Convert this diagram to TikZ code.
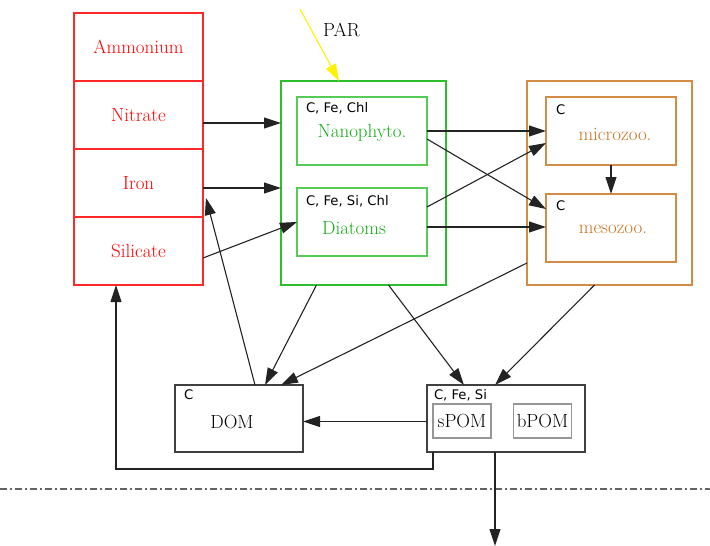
\documentclass[tikz,border=0pt]{standalone}
\usepackage{fontspec}
\newfontfamily\tagfont{DejaVu Sans}
\usetikzlibrary{calc,arrows.meta,positioning}

\definecolor{nutred}{RGB}{255,40,40}
\definecolor{nuttext}{RGB}{255,0,0}
\definecolor{phygreen}{RGB}{45,190,45}
\definecolor{phytext}{RGB}{20,170,20}
\definecolor{zoobrown}{RGB}{210,140,70}
\definecolor{zootext}{RGB}{200,115,35}
\definecolor{edgegray}{RGB}{35,35,35}
\definecolor{subgray}{RGB}{150,150,150}
\definecolor{seagray}{RGB}{100,100,100}

\tikzset{
	every node/.style={font=\fontsize{19}{22}\selectfont, inner sep=0pt, outer sep=0pt, text depth=0pt},
	nutbox/.style={draw=nutred, text=nuttext, line width=1.3pt, minimum width=129pt, minimum height=68pt},
	phyouter/.style={draw=phygreen, line width=1.3pt, minimum width=165pt, minimum height=204pt},
	phyinner/.style={draw=phygreen!80, text=phytext, line width=1.3pt, minimum width=130pt, minimum height=68pt},
	zoouter/.style={draw=zoobrown, line width=1.3pt, minimum width=165pt, minimum height=204pt},
	zooinner/.style={draw=zoobrown, text=zootext, line width=1.3pt, minimum width=130pt, minimum height=68pt},
	detbox/.style={draw=black!75, line width=1.3pt, minimum height=67pt},
	subbox/.style={draw=subgray, line width=1.3pt, minimum width=58pt, minimum height=34pt},
	elemtag/.style={font=\tagfont\fontsize{13.2}{15}\selectfont, anchor=north west},
	flow/.style={draw=edgegray, line width=1.1pt, -{Triangle[length=17pt,width=11pt]}},
	light/.style={draw=yellow, line width=1.1pt, -{Triangle[length=17pt,width=11pt,fill=yellow]}},
	sealine/.style={draw=seagray, line width=1.1pt, dash pattern=on 7pt off 3pt on 2pt off 3pt},
}

\begin{document}
\begin{tikzpicture}[x=1pt,y=-1pt]
		\useasboundingbox (0,0) rectangle (710,546);
		% nutrients
		\node[nutbox] (amm) at (138.5,47) {Ammonium};
		\node[nutbox, below=0pt of amm] (nit) {Nitrate};
		\node[nutbox, below=0pt of nit] (iron) {Iron};
		\node[nutbox, below=0pt of iron] (sil) {Silicate};
		%
		% phytoplankton
		\node[phyouter] (phyto) at (363.5,183) {};
		\node[phyinner] (nano) at (362,131) {Nanophyto.};
		\node[phyinner, label={[text=phytext, xshift=-8pt, yshift=-6pt]center:Diatoms}] (diat) at (362,222) {};
		\node[elemtag] (nanotag) at ($(nano.north west)+(9,5)$) {C, Fe, Chl};
		\node[elemtag] (diattag) at ($(diat.north west)+(9,7)$) {C, Fe, Si, Chl};
		%
		% zooplankton
		\node[zoouter] (zoo) at (609.5,183) {};
		\node[zooinner, label={[text=zootext, xshift=4pt, yshift=-3pt]center:microzoo.}] (micro) at (611,131) {};
		\node[zooinner, label={[text=zootext, xshift=2pt, yshift=-1pt]center:mesozoo.}] (meso) at (611,228) {};
		\node[elemtag] (microtag) at ($(micro.north west)+(10,8)$) {C};
		\node[elemtag] (mesotag) at ($(meso.north west)+(10,7)$) {C};
		%
		% detritus
		\node[detbox, minimum width=128pt, label={[xshift=-7pt, yshift=-3pt]center:DOM}] (dom) at (239,418.5) {};
		\node[elemtag] (domtag) at ($(dom.north west)+(9,5)$) {C};
		\node[detbox, minimum width=158pt] (pom) at (506,418.5) {};
		\node[elemtag] (pomtag) at ($(pom.north west)+(7,4)$) {C, Fe, Si};
		\node[subbox] (spom) at (462,421) {sPOM};
		\node[subbox] (bpom) at (542.5,421) {bPOM};
		%
		% light and sea floor
		\coordinate (sun) at (300,9);
		\node (partxt) at (341.5,30) {PAR};
		\coordinate (seaW) at (0,489);
		\coordinate (seaE) at (710,489);
		\coordinate (export) at (495,546);
		%
		\draw[light] (sun) -- ($(phyto.north west)+(58,0)$);
		\draw[sealine] (seaW) -- (seaE);
		%
		\draw[flow] ($(nit.east)+(0,8)$) -- ($(nit.east -| phyto.west)+(0,8)$);
		\draw[flow] ($(iron.east)+(0,5)$) -- ($(iron.east -| phyto.west)+(0,5)$);
		\draw[flow] ($(sil.east)+(0,7)$) -- (diat.west);
		\draw[flow] (nano.east) -- (micro.west);
		\draw[flow] ($(nano.east)+(0,8)$) -- ($(meso.west)+(0,-19)$);
		\draw[flow] ($(diat.east)+(0,-15)$) -- ($(micro.west)+(0,12)$);
		\draw[flow] ($(diat.east)+(0,5)$) -- ($(diat.east -| meso.west)+(0,5)$);
		\draw[flow] (micro.south) -- (meso.north);
		\draw[flow] ($(phyto.south)+(-47,0)$) -- ($(dom.north)+(26,0)$);
		\draw[flow] ($(zoo.south west)+(0,-22)$) -- ($(dom.north)+(42,0)$);
		\draw[flow] ($(dom.north)+(16,0)$) -- ($(iron.east)+(3,15)$);
		\draw[flow] ($(phyto.south)+(25,0)$) -- ($(pom.north)+(-42,0)$);
		\draw[flow] ($(zoo.south)+(-15,0)$) -- ($(pom.north)+(-11,0)$);
		\draw[flow] ($(pom.west)+(0,3)$) -- ($(dom.east)+(0,3)$);
		\draw[flow] ($(pom.south west)+(6,0)$) -- ++(0,17) -| ($(sil.south west)+(42,0)$);
		\draw[flow] ($(pom.south)+(-11,0)$) -- (export);
	\end{tikzpicture}
\end{document}
